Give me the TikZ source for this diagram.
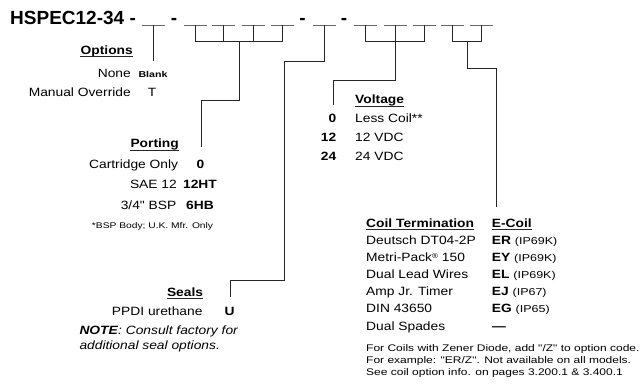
\documentclass[tikz,border=0pt]{standalone}
\usepackage{fontspec}
\setmainfont{Liberation Sans}
\newfontfamily\bodyf{Liberation Sans}[FakeStretch=1.15]
\newfontfamily\smallf{Liberation Sans}[FakeStretch=1.25]
\newfontfamily\titlef{Liberation Sans}
\begin{document}
\begin{tikzpicture}[x=1pt,y=-1pt,
  ttl/.style={inner sep=0pt, font=\titlef\bfseries\fontsize{19}{22}\selectfont},
  body/.style={inner sep=0pt, font=\bodyf\fontsize{12}{14}\selectfont},
  bodyb/.style={inner sep=0pt, font=\bodyf\bfseries\fontsize{12}{14}\selectfont},
  note/.style={inner sep=0pt, font=\smallf\fontsize{9.6}{11}\selectfont},
  tiny/.style={inner sep=0pt, font=\smallf\fontsize{8.2}{10}\selectfont},
  tinyb/.style={inner sep=0pt, font=\smallf\bfseries\fontsize{8.5}{10}\selectfont},
  slot/.style={draw=black!60, line width=0.8pt},
  conn/.style={draw=black!85, line width=0.9pt},
  ul/.style={draw=black!85, line width=0.8pt}]
\path[use as bounding box] (0,0) rectangle (643,385);

% title line
\node[ttl, anchor=base west] (title) at (10,24.5) {HSPEC12-34 -};
\node[ttl, anchor=base] (d1) at (174,24.5) {-};
\node[ttl, anchor=base] (d2) at (302.5,24.5) {-};
\node[ttl, anchor=base] (d3) at (344,24.5) {-};
\foreach \n/\x in {1/153.3,2/195,3/223.5,4/253,5/282.5,6/324.5,7/365.5,8/395,9/424,10/452.5,11/481.5}{
  \coordinate (s\n) at (\x,25.5);
  \draw[slot] ([xshift=-11.5pt]s\n) -- ([xshift=11.5pt]s\n);
}

% connector end points
\coordinate (optend) at (153.3,61);
\coordinate (portmid) at (239,41);
\coordinate (portend) at (201,147);
\coordinate (sealend) at (230,297);
\coordinate (voltend) at (333,105);
\coordinate (coilmid) at (467,41.5);
\coordinate (coilend) at (496.7,207);

% options
\draw[conn] (s1) -- (optend);
% porting
\draw[conn] (s2) -- ++(0,15.5) -| (s5);
\draw[conn] (s3) -- ++(0,15.5);
\draw[conn] (s4) -- ++(0,15.5);
\draw[conn] (portmid) -- ++(0,59) -| (portend);
% seals
\draw[conn] (s6) |- (284.3,61) -- (284.3,280) -| (sealend);
% voltage
\draw[conn] (s7) -- ++(0,16) -| (s9);
\draw[conn] (s8) -- ++(0,55) -| (voltend);
% coil
\draw[conn] (s10) -- ++(0,16) -| (s11);
\draw[conn] (coilmid) -- ++(0,26.8) -| (coilend);

% Options block
\node[bodyb, anchor=base east] (opth) at (133,54.5) {Options};
\draw[ul] ([yshift=-2pt]opth.base west) -- ([yshift=-2pt]opth.base east);
\node[body, anchor=base east] (none) at (131,77.5) {None};
\node[tinyb, anchor=base] (blank) at (153,77.5) {Blank};
\node[body, anchor=base east] (manual) at (131,96.5) {Manual Override};
\node[body, anchor=base] (tcode) at (152,96.5) {T};

% Porting block
\node[bodyb, anchor=base east] (porth) at (179,148) {Porting};
\draw[ul] ([yshift=-2pt]porth.base west) -- ([yshift=-2pt]porth.base east);
\node[body, anchor=base east] (cart) at (178.3,168.3) {Cartridge Only};
\node[bodyb, anchor=base] (p0) at (200.5,168.3) {0};
\node[body, anchor=base east] (sae) at (177,189) {SAE 12};
\node[bodyb, anchor=base] (p12) at (200,189) {12HT};
\node[body, anchor=base east] (bsp) at (176.5,209.3) {3/4" BSP};
\node[bodyb, anchor=base] (p6) at (200,209.3) {6HB};
\node[tiny, anchor=base east] (bspnote) at (213.3,228) {*BSP Body; U.K. Mfr. Only};

% Voltage block
\node[bodyb, anchor=base west] (volth) at (355,104) {Voltage};
\draw[ul] ([yshift=-2pt]volth.base west) -- ([yshift=-2pt]volth.base east);
\node[bodyb, anchor=base east] (v0) at (336.5,122.7) {0};
\node[body, anchor=base west] (vless) at (355,122.7) {Less Coil**};
\node[bodyb, anchor=base east] (v12) at (336.5,141.7) {12};
\node[body, anchor=base west] (v12t) at (355,141.7) {12 VDC};
\node[bodyb, anchor=base east] (v24) at (336.5,160.3) {24};
\node[body, anchor=base west] (v24t) at (355,160.3) {24 VDC};

% Seals block
\node[bodyb, anchor=base east] (sealh) at (203.3,296) {Seals};
\draw[ul] ([yshift=-2pt]sealh.base west) -- ([yshift=-2pt]sealh.base east);
\node[body, anchor=base east] (ppdi) at (202.7,315) {PPDI urethane};
\node[bodyb, anchor=base] (ucode) at (229.7,315) {U};
\node[body, anchor=base west] (note1) at (79.3,334.3) {\textbf{\textit{NOTE}}\textit{: Consult factory for}};
\node[body, anchor=base west] (note2) at (79.3,349.3) {\textit{additional seal options.}};

% Coil block
\node[bodyb, anchor=base west] (coilh) at (366,227.3) {Coil Termination};
\draw[ul] ([yshift=-2pt]coilh.base west) -- ([yshift=-2pt]coilh.base east);
\node[bodyb, anchor=base west] (ecoilh) at (491.7,227.3) {E-Coil};
\draw[ul] ([yshift=-2pt]ecoilh.base west) -- ([yshift=-2pt]ecoilh.base east);
\foreach \k/\nm/\cd/\ip in {0/Deutsch DT04-2P/ER/(IP69K),
  1/{Metri-Pack{\fontsize{7}{8}\selectfont\raisebox{3.5pt}{®}} 150}/EY/(IP69K),
  2/Dual Lead Wires/EL/(IP69K),
  3/Amp Jr. Timer/EJ/(IP67),
  4/DIN 43650/EG/(IP65)}{
  \node[body, anchor=base west] (ct\k) at (366,244.7+17.06*\k) {\nm};
  \node[bodyb, anchor=base west] (cc\k) at (491.7,244.7+17.06*\k) {\cd\ {\smallf\mdseries\fontsize{10}{12}\selectfont\ip}};
}
\node[body, anchor=base west] (ct5) at (366,330) {Dual Spades};
\node[bodyb, anchor=base west] (cc5) at (492,330) {—};
\node[note, anchor=base west] (z1) at (366,351) {For Coils with Zener Diode, add "/Z" to option code.};
\node[note, anchor=base west] (z2) at (366,363.3) {For example: "ER/Z". Not available on all models.};
\node[note, anchor=base west] (z3) at (366,375.7) {See coil option info. on pages 3.200.1 \& 3.400.1};
\end{tikzpicture}
\end{document}
